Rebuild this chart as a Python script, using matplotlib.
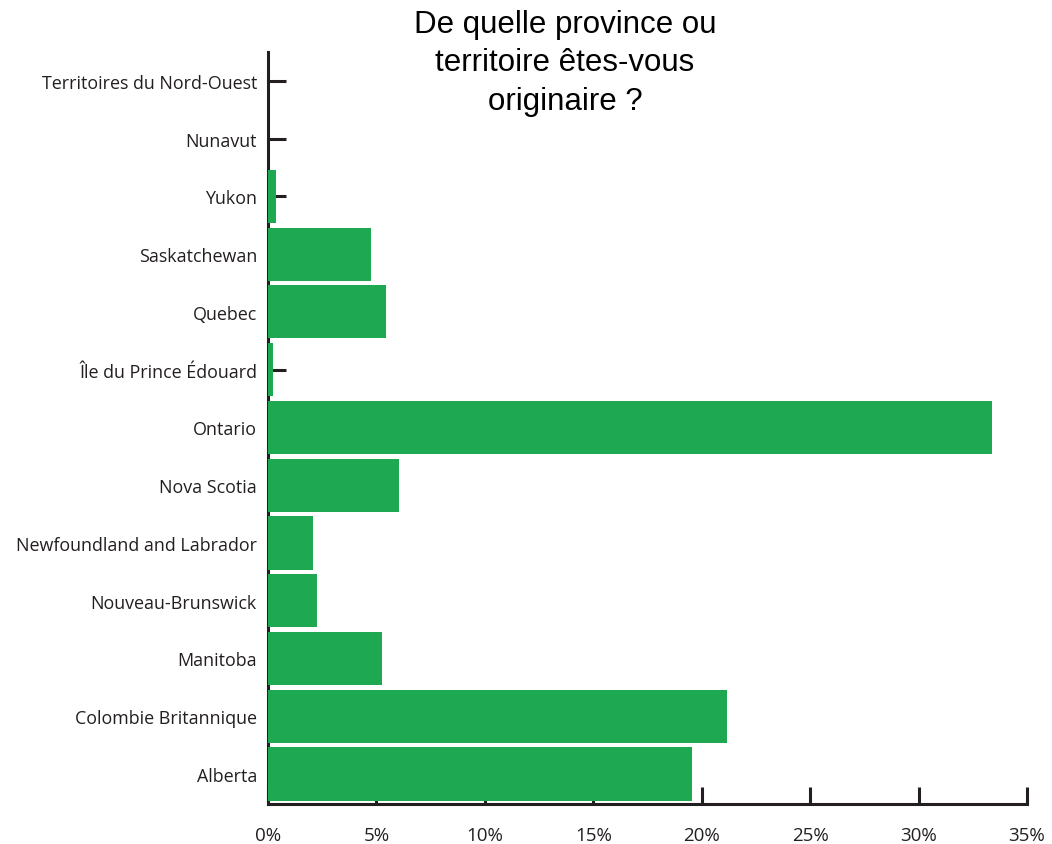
import numpy as np
import matplotlib.pyplot as plt

provinces = ["Alberta", "Colombie Britannique", "Manitoba", "Nouveau-Brunswick",
             "Newfoundland and Labrador", "Nova Scotia", "Ontario",
             "Île du Prince Édouard", "Quebec", "Saskatchewan", "Yukon",
             "Nunavut", "Territoires du Nord-Ouest"]
shares = [19.55, 21.15, 5.25, 2.25, 2.05, 6.05, 33.4, 0.25, 5.45, 4.75, 0.35, 0.0, 0.0]
xticks = [0, 5, 10, 15, 20, 25, 30, 35]

plt.rcParams['font.family'] = ['Open Sans', 'DejaVu Sans']

fig = plt.figure(figsize=(10.52, 8.45), dpi=100)
ax = fig.add_axes([0.2548, 0.0473, 0.9762 - 0.2548, 0.9373 - 0.0473])

y = np.arange(len(provinces))
ax.barh(y, shares, height=0.92, color='#1ea851', zorder=3)

ax.set_xlim(0, 35)
ax.set_ylim(-0.52, len(provinces) - 0.5)
ax.set_yticks(y)
ax.set_yticklabels(provinces, fontsize=12.9, color='#231f20')
ax.set_xticks(xticks)
ax.set_xticklabels([f"{t}%" for t in xticks], fontsize=13.5, color='#231f20')

ax.tick_params(axis='y', direction='in', length=13, width=2.2, color='#231f20', pad=8)
ax.tick_params(axis='x', direction='in', length=12, width=2.2, color='#231f20', pad=16)

for side in ['top', 'right']:
    ax.spines[side].set_visible(False)
for side in ['left', 'bottom']:
    ax.spines[side].set_linewidth(2.2)
    ax.spines[side].set_color('#231f20')

fig.text(0.537, 0.988, "De quelle province ou\nterritoire êtes-vous\noriginaire ?",
         ha='center', va='top', fontsize=22.5, family=['Liberation Sans', 'DejaVu Sans'],
         linespacing=1.36)

fig.savefig('out.png', dpi=100)
